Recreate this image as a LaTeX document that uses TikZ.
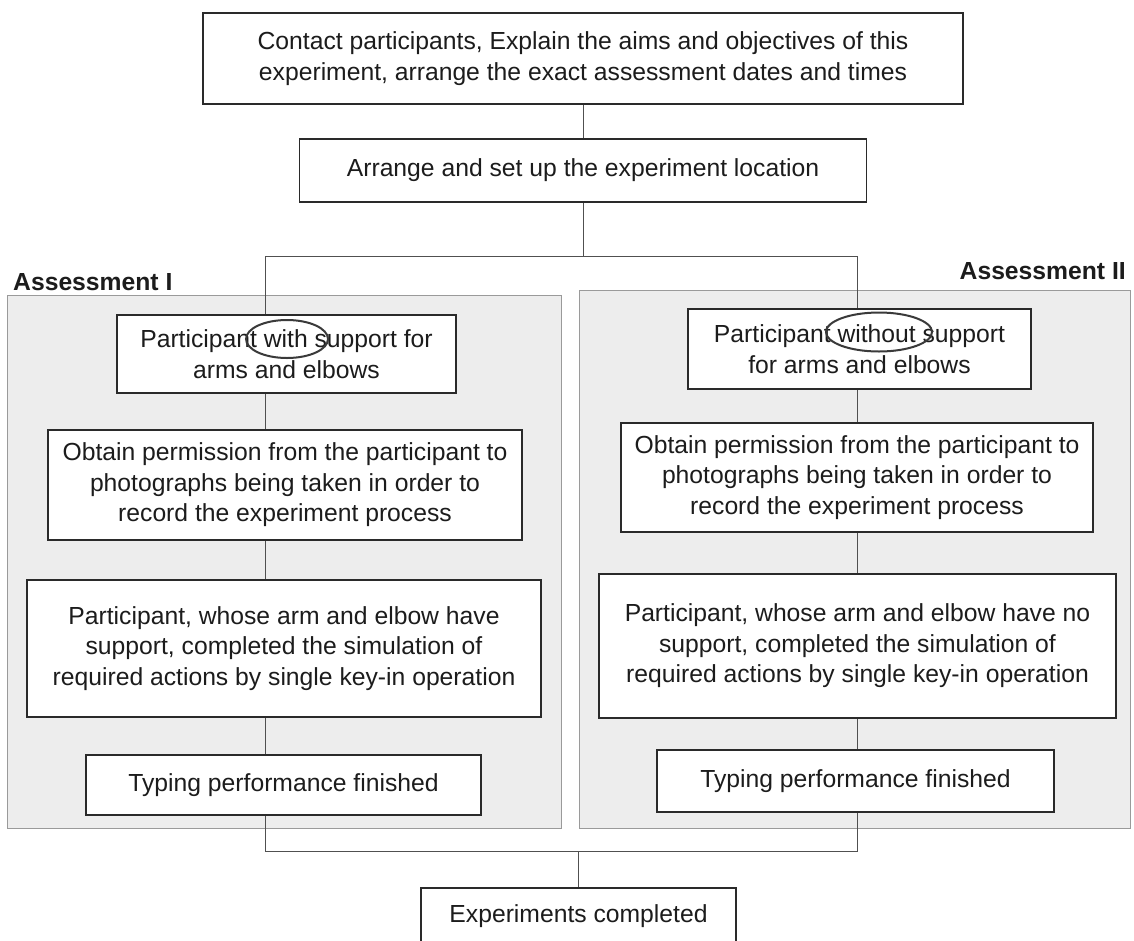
\documentclass[tikz,border=0pt]{standalone}
\usepackage{fontspec}
\setmainfont{Liberation Sans}
\definecolor{ink}{HTML}{1C1C1C}
\definecolor{boxline}{HTML}{2A2A2A}
\definecolor{linkcol}{HTML}{505050}
\definecolor{panelfill}{HTML}{EDEDED}
\definecolor{panelline}{HTML}{9A9A9A}
\definecolor{markcol}{HTML}{3A3A3A}

\begin{document}
\begin{tikzpicture}[x=1pt, y=-1pt,
  stepbox/.style={draw=boxline, line width=1.6pt, fill=white, align=center,
    inner sep=0pt, text=ink, font=\fontsize{24.7}{30.5}\selectfont},
  link/.style={draw=linkcol, line width=1pt},
  panel/.style={draw=panelline, fill=panelfill, line width=0.8pt},
  heading/.style={inner sep=0pt, text=ink, font=\fontsize{24.7}{30}\selectfont\bfseries},
  ring/.style={draw=markcol, line width=2pt}]
\useasboundingbox (0,0) rectangle (1134,940);
\clip (0,0) rectangle (1134,940);

% the two assessment panels
\fill[white] (0,0) rectangle (1134,940);
\draw[panel] (7,295) rectangle (561,828);
\draw[panel] (579,290) rectangle (1130,828);
\node[heading, anchor=west] (headL) at (13,282) {Assessment I};
\node[heading, anchor=east] (headR) at (1126,271) {Assessment II};

% routing points
\coordinate (split)  at (583,256);
\coordinate (splitL) at (265,256);
\coordinate (splitR) at (857,256);
\coordinate (joinL)  at (265,851);
\coordinate (joinR)  at (857,851);
\coordinate (join)   at (578,851);

% common steps
\node[stepbox, minimum width=760pt, minimum height=91pt] (contact) at (583,58.5)
  {Contact participants, Explain the aims and objectives of this\\experiment, arrange the exact assessment dates and times};
\node[stepbox, minimum width=567pt, minimum height=63pt] (setup) at (583,170.5)
  {Arrange and set up the experiment location};

% assessment I
\node[stepbox, minimum width=339pt, minimum height=78pt] (l1) at (286.5,354)
  {Participant with support for\\arms and elbows};
\node[stepbox, minimum width=474pt, minimum height=110pt] (l2) at (285,485)
  {Obtain permission from the participant to\\photographs being taken in order to\\record the experiment process};
\node[stepbox, minimum width=514pt, minimum height=137pt] (l3) at (284,648.5)
  {Participant, whose arm and elbow have\\support, completed the simulation of\\required actions by single key-in operation};
\node[stepbox, minimum width=395pt, minimum height=60pt] (l4) at (283.5,785)
  {Typing performance finished};

% assessment II
\node[stepbox, minimum width=343pt, minimum height=80pt] (r1) at (859.5,349)
  {Participant without support\\for arms and elbows};
\node[stepbox, minimum width=472pt, minimum height=109pt] (r2) at (857,477.5)
  {Obtain permission from the participant to\\photographs being taken in order to\\record the experiment process};
\node[stepbox, minimum width=517pt, minimum height=144pt] (r3) at (857.5,646)
  {Participant, whose arm and elbow have no\\support, completed the simulation of\\required actions by single key-in operation};
\node[stepbox, minimum width=397pt, minimum height=62pt] (r4) at (855.5,781)
  {Typing performance finished};

% final step
\node[stepbox, minimum width=315pt, minimum height=56pt] (done) at (578.5,916)
  {Experiments completed};

% connectors
\draw[link] (contact.south) -- (setup.north);
\draw[link] (setup.south) -- (split);
\draw[link] (splitL |- l1.north) -- (splitL) -- (splitR) -- (splitR |- r1.north);
\draw[link] (l1.south -| splitL) -- (l2.north -| splitL);
\draw[link] (l2.south -| splitL) -- (l3.north -| splitL);
\draw[link] (l3.south -| splitL) -- (l4.north -| splitL);
\draw[link] (r1.south -| splitR) -- (r2.north -| splitR);
\draw[link] (r2.south -| splitR) -- (r3.north -| splitR);
\draw[link] (r3.south -| splitR) -- (r4.north -| splitR);
\draw[link] (l4.south -| joinL) -- (joinL) -- (joinR) -- (r4.south -| joinR);
\draw[link] (join) -- (done.north -| join);

% hand-drawn rings round the key words
\draw[ring] (287,339) ellipse (41 and 19);
\draw[ring] (879,332) ellipse (53 and 19.5);
\end{tikzpicture}
\end{document}
